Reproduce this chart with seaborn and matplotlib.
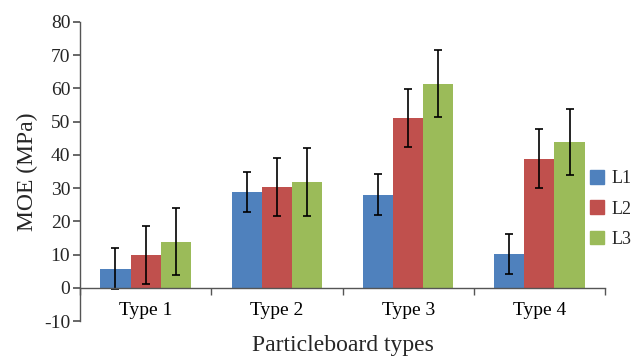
import matplotlib
matplotlib.use("Agg")
import matplotlib.pyplot as plt
import seaborn as sns
import pandas as pd
import numpy as np

categories = ["Type 1", "Type 2", "Type 3", "Type 4"]
levels = ["L1", "L2", "L3"]
L1_vals = [5.8, 28.9, 28.0, 10.2]
L2_vals = [9.8, 30.3, 51.0, 38.9]
L3_vals = [13.8, 31.8, 61.4, 43.9]
L1_err = [6.1, 6.1, 6.1, 6.1]
L2_err = [8.7, 8.7, 8.7, 8.8]
L3_err = [10.1, 10.2, 10.1, 10.0]
colors = ["#4F81BD", "#C0504D", "#9BBB59"]

sns.set_theme(style="white")
plt.rcParams["font.family"] = ["Liberation Serif", "DejaVu Serif"]
plt.rcParams["axes.unicode_minus"] = False

rows = []
for lvl, vals in zip(levels, [L1_vals, L2_vals, L3_vals]):
    for c, v in zip(categories, vals):
        rows.append({"type": c, "level": lvl, "MOE": v})
df = pd.DataFrame(rows)

fig = plt.figure(figsize=(6.34, 3.57), dpi=100)
ax = fig.add_axes([80/634, 1-321/357, (605-80)/634, (321-22)/357])

sns.barplot(data=df, x="type", y="MOE", hue="level", palette=colors,
            width=0.69, errorbar=None, ax=ax, saturation=1, legend=True,
            linewidth=0, edgecolor="none")

errs = [L1_err, L2_err, L3_err]
for cont, vals, e in zip(ax.containers, [L1_vals, L2_vals, L3_vals], errs):
    xs = [p.get_x() + p.get_width()/2 for p in cont.patches]
    ax.errorbar(xs, vals, yerr=e, fmt="none", ecolor="black",
                elinewidth=1.2, capsize=3, capthick=1.2)

ax.set_ylim(-10, 80)
ax.set_xlim(-0.5, 3.5)
ax.set_yticks(np.arange(-10, 81, 10))
ax.spines["top"].set_visible(False)
ax.spines["right"].set_visible(False)
ax.spines["bottom"].set_position(("data", 0))
for s in ["left", "bottom"]:
    ax.spines[s].set_color("#555555")
    ax.spines[s].set_linewidth(1.0)

ax.set_xticks(range(len(categories)))
ax.set_xticklabels(categories)
ax.set_xticks(np.arange(-0.5, 3.6, 1), minor=True)
ax.tick_params(axis="x", which="major", length=0, pad=10, labelsize=14, colors="black")
ax.tick_params(axis="x", which="minor", length=5, direction="out", color="#555555", bottom=True)
ax.tick_params(axis="y", length=5, direction="out", pad=2, labelsize=14, color="#555555", left=True)

ax.set_xlabel("")
ax.set_ylabel("MOE (MPa)", fontsize=17, labelpad=4)
fig.text((80+605)/2/634, 1-345/357, "Particleboard types", ha="center", va="center", fontsize=17)

ax.legend_.remove()
handles = [plt.Rectangle((0, 0), 1, 1, color=c) for c in colors]
fig.legend(handles, levels, loc="center left", bbox_to_anchor=(590/634, 1-209/357),
           bbox_transform=fig.transFigure, frameon=False, fontsize=13,
           handlelength=0.78, handleheight=0.78, handletextpad=0.4,
           labelspacing=0.72, borderpad=0, borderaxespad=0)

fig.savefig("out.png", dpi=100, facecolor="white")
